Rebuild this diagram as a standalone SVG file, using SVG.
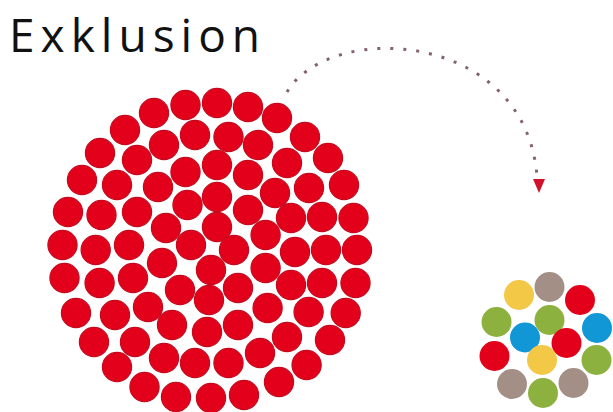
<svg xmlns="http://www.w3.org/2000/svg" width="613" height="412" viewBox="0 0 613 412">
<style>
.title{font-family:"Open Sans","Liberation Sans",sans-serif;font-size:46px;fill:#111;letter-spacing:6px}
.r circle{fill:#e3001b;stroke:#c40a1e;stroke-width:1.2}
.s circle{stroke-width:0}
.red{fill:#e3001b}.yel{fill:#f3c847}.gry{fill:#a48f87}.grn{fill:#8db13f}.blu{fill:#1196d6}
.conn{fill:none;stroke:#86636c;stroke-width:3;stroke-dasharray:3 10}
.head{fill:#d3102b}
</style>
<rect width="613" height="412" fill="#fff"/>
<g id="title"><text class="title" x="9" y="52">Exklusion</text></g>
<g id="connectors">
<path class="conn" d="M287,92 C330,20 525,30 537,176"/>
<path class="head" d="M533,179 L545,179 L539,193 Z"/>
</g>
<g id="population" class="r">
<circle cx="185.5" cy="105" r="14.6"/><circle cx="217" cy="103" r="14.6"/><circle cx="248" cy="107" r="14.6"/>
<circle cx="154" cy="113" r="14.6"/><circle cx="277" cy="118" r="14.6"/><circle cx="125" cy="130" r="14.6"/>
<circle cx="195" cy="135" r="14.6"/><circle cx="228.5" cy="137" r="14.6"/><circle cx="164" cy="145" r="14.6"/>
<circle cx="258" cy="145" r="14.6"/><circle cx="305" cy="137" r="14.6"/><circle cx="100" cy="153" r="14.6"/>
<circle cx="137" cy="160" r="14.6"/><circle cx="287" cy="163" r="14.6"/><circle cx="328" cy="158" r="14.6"/>
<circle cx="185.5" cy="172" r="14.6"/><circle cx="217" cy="165" r="14.6"/><circle cx="248" cy="175" r="14.6"/>
<circle cx="82" cy="180" r="14.6"/><circle cx="117" cy="185" r="14.6"/><circle cx="158" cy="187" r="14.6"/>
<circle cx="275" cy="193" r="14.6"/><circle cx="309" cy="188" r="14.6"/><circle cx="344" cy="185" r="14.6"/>
<circle cx="217" cy="197" r="14.6"/><circle cx="187.5" cy="205" r="14.6"/><circle cx="68" cy="212" r="14.6"/>
<circle cx="101.5" cy="215" r="14.6"/><circle cx="137" cy="212" r="14.6"/><circle cx="248" cy="210" r="14.6"/>
<circle cx="291" cy="218" r="14.6"/><circle cx="322" cy="217" r="14.6"/><circle cx="353.5" cy="218" r="14.6"/>
<circle cx="166" cy="228" r="14.6"/><circle cx="217" cy="227" r="14.6"/><circle cx="265.6" cy="235" r="14.6"/>
<circle cx="62.5" cy="245" r="14.6"/><circle cx="95.7" cy="250" r="14.6"/><circle cx="129" cy="245" r="14.6"/>
<circle cx="191" cy="245" r="14.6"/><circle cx="234" cy="250" r="14.6"/><circle cx="295" cy="252" r="14.6"/>
<circle cx="326" cy="250" r="14.6"/><circle cx="357" cy="250" r="14.6"/><circle cx="162" cy="263" r="14.6"/>
<circle cx="211" cy="270" r="14.6"/><circle cx="265.6" cy="268" r="14.6"/><circle cx="64.5" cy="278" r="14.6"/>
<circle cx="99.6" cy="283" r="14.6"/><circle cx="133" cy="278" r="14.6"/><circle cx="180" cy="290" r="14.6"/>
<circle cx="238" cy="288" r="14.6"/><circle cx="291" cy="285" r="14.6"/><circle cx="322" cy="283" r="14.6"/>
<circle cx="355.5" cy="283" r="14.6"/><circle cx="209" cy="300" r="14.6"/><circle cx="267.6" cy="308" r="14.6"/>
<circle cx="76" cy="313" r="14.6"/><circle cx="115" cy="315" r="14.6"/><circle cx="148" cy="307" r="14.6"/>
<circle cx="308.6" cy="312" r="14.6"/><circle cx="345.7" cy="313" r="14.6"/><circle cx="172" cy="325" r="14.6"/>
<circle cx="238" cy="325" r="14.6"/><circle cx="207" cy="332" r="14.6"/><circle cx="94" cy="342" r="14.6"/>
<circle cx="135" cy="342" r="14.6"/><circle cx="287" cy="337" r="14.6"/><circle cx="330" cy="340" r="14.6"/>
<circle cx="164" cy="358" r="14.6"/><circle cx="195" cy="363" r="14.6"/><circle cx="228.5" cy="363" r="14.6"/>
<circle cx="260" cy="353" r="14.6"/><circle cx="306.6" cy="365" r="14.6"/><circle cx="117" cy="367" r="14.6"/>
<circle cx="144.5" cy="387" r="14.6"/><circle cx="176" cy="397" r="14.6"/><circle cx="211" cy="398" r="14.6"/>
<circle cx="244" cy="395" r="14.6"/><circle cx="279" cy="382" r="14.6"/>
</g>
<g id="excluded" class="s">
<circle class="yel" cx="519" cy="295" r="15"/>
<circle class="gry" cx="549.5" cy="287" r="15"/>
<circle class="red" cx="580" cy="300" r="15"/>
<circle class="grn" cx="496.5" cy="322" r="15"/>
<circle class="grn" cx="549.5" cy="320" r="15"/>
<circle class="blu" cx="597" cy="328" r="15"/>
<circle class="blu" cx="525" cy="337.5" r="15"/>
<circle class="red" cx="566.5" cy="343" r="15"/>
<circle class="red" cx="494.5" cy="356" r="15"/>
<circle class="yel" cx="542" cy="360" r="15"/>
<circle class="grn" cx="596.5" cy="360" r="15"/>
<circle class="gry" cx="512" cy="384" r="15"/>
<circle class="gry" cx="573.5" cy="383" r="15"/>
<circle class="grn" cx="543" cy="393" r="15"/>
</g>
</svg>
